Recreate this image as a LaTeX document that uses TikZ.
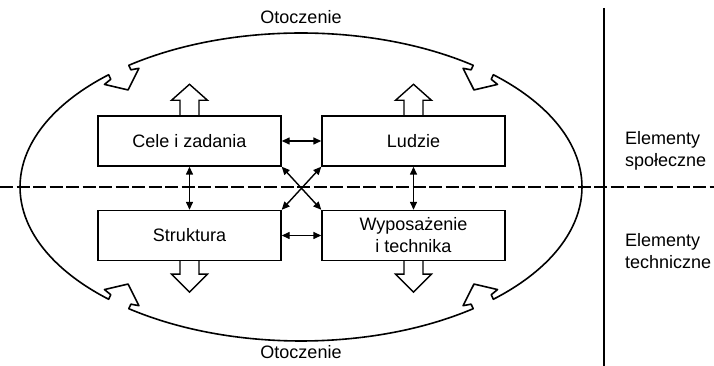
\documentclass[tikz,border=0pt]{standalone}
\usepackage{fontspec}
\setmainfont{Liberation Sans}
\usetikzlibrary{calc,arrows.meta}

% Corner points of one inward-pointing arrowhead set into the ellipse outline
% #1 = name prefix, #2 = start angle, #3 = end angle of the gap
\newcommand\gapcoords[3]{%
  \coordinate (#1A) at ($(O)+(#2:281pt and 154pt)$);
  \coordinate (#1G) at ($(O)+(#3:281pt and 154pt)$);
  \coordinate (#1M) at ($(#1A)!0.5!(#1G)$);
  \coordinate (#1B) at ($(#1A)!5pt!90:(#1G)$);
  \coordinate (#1F) at ($(#1G)!5pt!-90:(#1A)$);
  \coordinate (#1C) at ($(#1M)!20.25pt!159.8:(#1G)$);
  \coordinate (#1E) at ($(#1M)!20.25pt!20.2:(#1G)$);
  \coordinate (#1D) at ($(#1M)!22pt!90:(#1G)$);
}

\begin{document}
\begin{tikzpicture}[x=1pt,y=1pt,
  every node/.style={font=\fontsize{18}{22}\selectfont},
  box/.style={draw,line width=1.4pt,minimum width=183pt,minimum height=50pt,
    inner sep=0pt,align=center},
  link/.style={line width=1.4pt,
    {Triangle[length=8pt,width=7pt]}-{Triangle[length=8pt,width=7pt]}},
  hollow/.style={draw,line width=1.4pt,line join=miter},
  ring/.style={line width=1.6pt,line join=round,line cap=round},
  divider/.style={line width=2.6pt,dash pattern=on 13pt off 3.5pt},
  sidelabel/.style={align=left,anchor=west,inner sep=0pt}]

\useasboundingbox (0,0) rectangle (714,366);

% environment ellipse with four arrowheads pointing inwards
\coordinate (O) at (301,179);
\gapcoords{tl}{127.8}{133.2}
\gapcoords{bl}{226.8}{232.2}
\gapcoords{br}{307.8}{313.2}
\gapcoords{tr}{46.8}{52.2}
\draw[ring] (trG)
  arc[start angle=52.2,end angle=127.8,x radius=281pt,y radius=154pt]
  -- (tlB) -- (tlC) -- (tlD) -- (tlE) -- (tlF) -- (tlG)
  arc[start angle=133.2,end angle=226.8,x radius=281pt,y radius=154pt]
  -- (blB) -- (blC) -- (blD) -- (blE) -- (blF) -- (blG)
  arc[start angle=232.2,end angle=307.8,x radius=281pt,y radius=154pt]
  -- (brB) -- (brC) -- (brD) -- (brE) -- (brF) -- (brG)
  arc[start angle=313.2,end angle=406.8,x radius=281pt,y radius=154pt]
  -- (trB) -- (trC) -- (trD) -- (trE) -- (trF) -- cycle;

\node (ottop) at (301,349) {Otoczenie};
\node (otbot) at (301,14) {Otoczenie};

% the four elements
\node[box] (cz) at (189.5,225) {Cele i zadania};
\node[box] (lu) at (413.5,225) {Ludzie};
\node[box] (st) at (189.5,130.5) {Struktura};
\node[box] (wy) at (413.5,130.5) {Wyposażenie\\i technika};

% mutual relations
\draw[link] (cz) -- (lu);
\draw[link] (st) -- (wy);
\draw[link] (cz) -- (st);
\draw[link] (lu) -- (wy);
\draw[link] (cz.south east) -- (wy.north west);
\draw[link] (lu.south west) -- (st.north east);

% hollow outputs
\foreach \n in {cz,lu}{
  \draw[hollow] ($(\n.north)+(-9.5,0)$) -- ++(0,15) -- ++(-8.5,0)
    -- ++(18,16) -- ++(18,-16) -- ++(-8.5,0) -- ++(0,-15);
}
\foreach \n in {st,wy}{
  \draw[hollow] ($(\n.south)+(-9.5,0)$) -- ++(0,-13) -- ++(-8.5,0)
    -- ++(18,-18) -- ++(18,18) -- ++(-8.5,0) -- ++(0,13);
}

% social / technical split
\coordinate (dl) at (0,179);
\coordinate (dr) at (714,179);
\draw[divider] (dl) -- (dr);
\coordinate (vt) at (604,358);
\coordinate (vb) at (604,0);
\draw[line width=1.5pt] (vt) -- (vb);

\node[sidelabel] (soc) at (625,215) {Elementy\\społeczne};
\node[sidelabel] (tech) at (625,115) {Elementy\\techniczne};
\end{tikzpicture}
\end{document}
